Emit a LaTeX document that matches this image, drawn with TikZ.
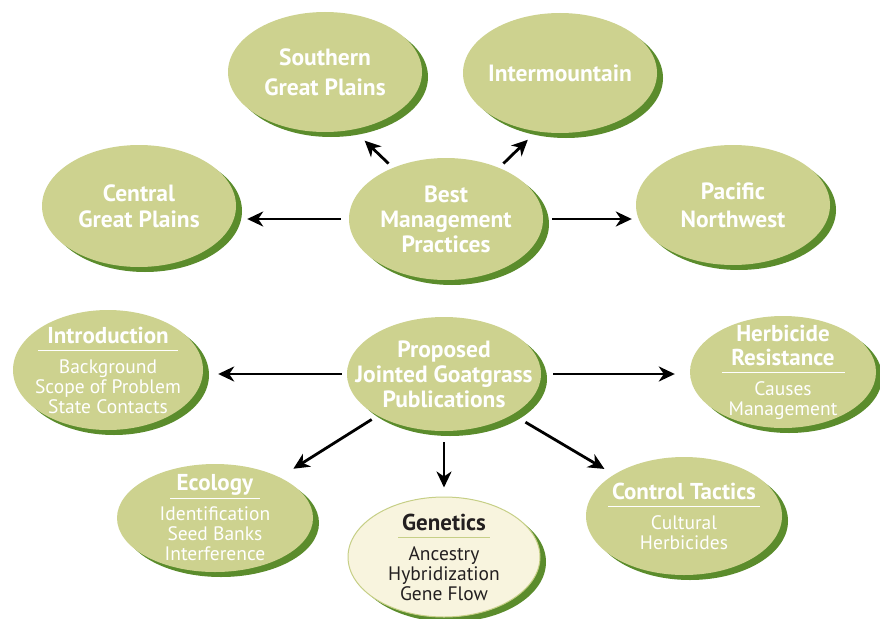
\documentclass[tikz,border=0pt]{standalone}
\usepackage{fontspec}
\setmainfont{PT Sans}
\usetikzlibrary{shapes.geometric,shadows,arrows.meta}

\definecolor{sage}{HTML}{CDD28F}
\definecolor{leafdark}{HTML}{5B8C2C}
\definecolor{cream}{HTML}{F8F4DE}
\definecolor{creamline}{HTML}{C6CF86}
\definecolor{inkdark}{HTML}{231F20}

% title of an oval with a rule under it
\newcommand\ovalhead[3][white]{\textbf{\fontsize{23}{24}\selectfont #3}\\[-12pt]\textcolor{#1}{\rule{#2}{1.3pt}}\\[2pt]}

\begin{document}
\begin{tikzpicture}[x=1pt,y=-1pt,
  oval/.style={ellipse, fill=sage, text=white, align=center,
    inner xsep=-40pt, inner ysep=-15pt, %<-- the ellipse keeps its minimum size
    minimum width=194pt, minimum height=120pt,
    font=\fontsize{23.5}{25}\selectfont\bfseries,
    general shadow={fill=leafdark, shadow xshift=6pt, shadow yshift=-5pt}},
  topic/.style={oval, font=\fontsize{19.5}{20}\selectfont},
  link/.style={-{Stealth[length=16pt,width=15pt,inset=5pt]}, line width=2.8pt}]
\useasboundingbox (0,0) rectangle (880,618);

% best management practices
\node[oval, minimum height=122pt] (bmp) at (446,219) {Best\\Management\\Practices};
\node[oval, font=\fontsize{23.5}{30}\selectfont\bfseries] (south) at (325,72) {Southern\\Great Plains};
\node[oval] (inter) at (560,73) {Intermountain};
\node[oval, minimum height=122pt, font=\fontsize{23.5}{26}\selectfont\bfseries] (central) at (139,206) {Central\\Great Plains};
\node[oval, font=\fontsize{23.5}{28}\selectfont\bfseries] (pacific) at (733,205) {Pacific\\Northwest};

% proposed publications
\node[oval, minimum height=114pt] (proposed) at (444,374) {Proposed\\Jointed Goatgrass\\Publications};
\node[topic, minimum width=190pt] (intro) at (108,370)
  {\ovalhead{140pt}{Introduction}Background\\Scope of Problem\\State Contacts};
\node[topic, minimum width=186pt, minimum height=112pt] (herb) at (783,372)
  {\textbf{\fontsize{23}{24}\selectfont Herbicide}\\[4pt]\ovalhead{123pt}{Resistance}Causes\\Management};
\node[topic, minimum width=196pt, minimum height=108pt] (eco) at (215,518)
  {\ovalhead{90pt}{Ecology}Identification\\Seed Banks\\Interference};
\node[topic, minimum width=192pt, fill=cream, draw=creamline, line width=1pt, text=inkdark] (gen) at (444,557)
  {\ovalhead[creamline]{92pt}{Genetics}Ancestry\\Hybridization\\Gene Flow};
\node[topic, minimum width=196pt, minimum height=118pt] (control) at (684,516)
  {\ovalhead{152pt}{Control Tactics}Cultural\\Herbicides};

% arrows
\draw[link, shorten <=6pt, shorten >=16pt] (bmp.136) -- (south.-64);
\draw[link, shorten <=6pt, shorten >=12pt] (bmp.44) -- (inter.-112);
\draw[link, shorten <=8pt, shorten >=11pt] (bmp.west) -- (bmp.west -| central.east);
\draw[link, shorten <=9pt, shorten >=4pt] (bmp.east) -- (bmp.east -| pacific.west);
\draw[link, shorten <=5pt, shorten >=15pt] (proposed.west) -- (proposed.west -| intro.east);
\draw[link, shorten <=12pt, shorten >=15pt] (proposed.east) -- (proposed.east -| herb.west);
\draw[link, shorten <=7pt, shorten >=16pt] (proposed) -- (eco);
\draw[link, shorten <=11pt, shorten >=9pt] (proposed.south) -- (gen.north);
\draw[link, shorten <=15pt, shorten >=11pt] (proposed) -- (control);
\end{tikzpicture}
\end{document}
